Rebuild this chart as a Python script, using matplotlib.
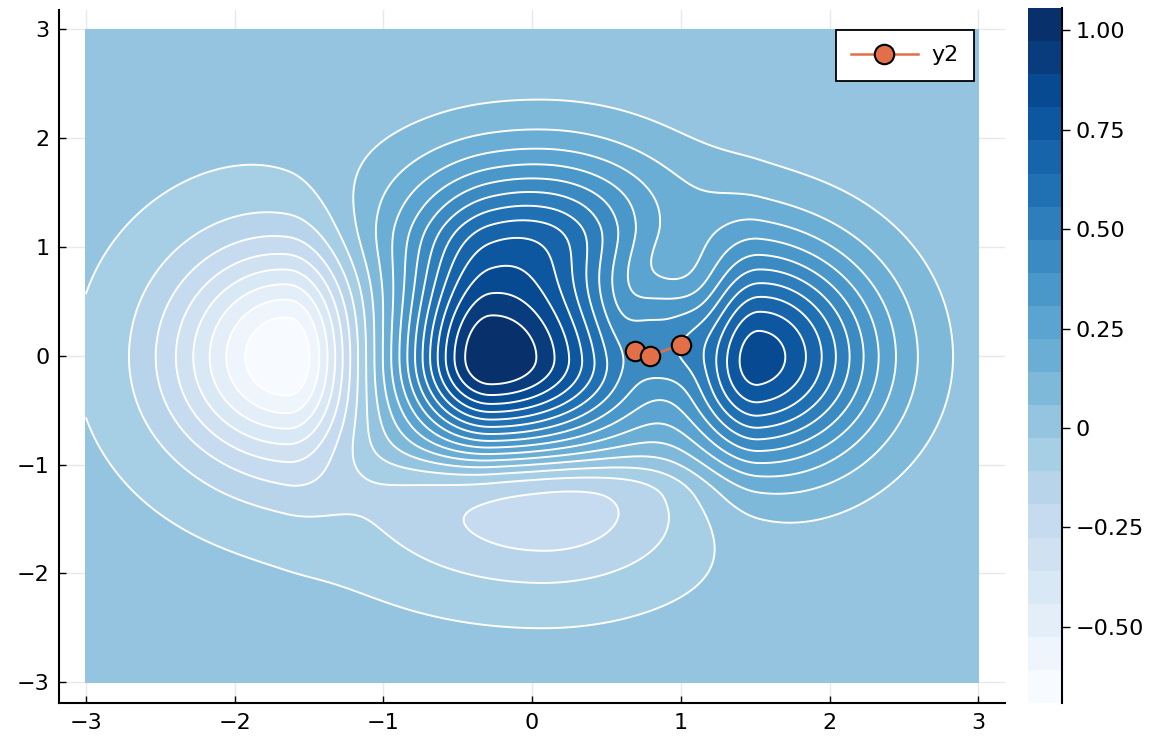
import numpy as np
import matplotlib
matplotlib.use("Agg")
import matplotlib.pyplot as plt

bump_amp = [1.056, 0.397, 0.820, -0.699, -0.270, 0.160, -0.150]
bump_cx = [-0.277, 0.093, 1.528, -1.641, 0.071, 0.891, 0.843]
bump_cy = [-0.030, 1.212, -0.008, -0.010, -1.292, 0.194, 0.634]
bump_sx_left = [0.409, 0.737, 0.326, 0.550, 0.891, 0.190, 0.402]
bump_sx_right = [0.725, 0.646, 0.575, 0.297, 0.744, 0.210, 0.425]
bump_sy_down = [0.558, 0.417, 0.705, 0.690, 0.614, 0.309, 0.605]
bump_sy_up = [0.772, 0.561, 0.737, 0.717, 0.275, 0.350, 0.504]
bump_power = [2.034, 1.993, 2.047, 1.975, 2.275, 2.668, 2.587]

# colour range of the colorbar and number of bands
z_min, z_max = -0.691, 1.055
n_bands = 21

# path of the optimiser ("y2")
path_x = [0.69, 0.79, 1.00]
path_y = [0.04, 0.00, 0.10]

cbar_ticks = [-0.5, -0.25, 0, 0.25, 0.5, 0.75, 1.0]
cbar_labels = ["\u22120.50", "\u22120.25", "0", "0.25", "0.50", "0.75", "1.00"]


def surface(x, y):
    z = np.zeros_like(x)
    for a, cx, cy, sxl, sxr, syd, syu, p in zip(bump_amp, bump_cx, bump_cy, bump_sx_left,
                                                 bump_sx_right, bump_sy_down, bump_sy_up, bump_power):
        dx, dy = x - cx, y - cy
        sx = np.where(dx < 0, sxl, sxr)
        sy = np.where(dy < 0, syd, syu)
        r2 = (dx / sx) ** 2 + (dy / sy) ** 2
        z += a * np.exp(-0.5 * r2 ** (p / 2))
    return z


xs = np.linspace(-3, 3, 361)
ys = np.linspace(-3, 3, 361)
X, Y = np.meshgrid(xs, ys)
Z = surface(X, Y)
levels = np.linspace(z_min, z_max, n_bands + 1)
band_colors = plt.cm.Blues(np.linspace(0, 1, n_bands))

plt.rcParams['font.family'] = 'DejaVu Sans'
plt.rcParams['contour.negative_linestyle'] = 'solid'
fig = plt.figure(figsize=(11.58, 7.40), dpi=100)
ax = fig.add_axes([0.051, 0.05, 0.817, 0.937])
cax = fig.add_axes([0.8877, 0.05, 0.0294, 0.939])

ax.grid(True, color='#e8e8e8', lw=1)
ax.set_axisbelow(True)
cs = ax.contourf(X, Y, np.clip(Z, z_min + 1e-6, z_max - 1e-6), levels=levels, colors=band_colors)
ax.contour(X, Y, Z, levels=levels[1:-1], colors='white', linewidths=1.4)
ax.plot(path_x, path_y, '-o', color='#e26f47', lw=1.8, ms=14, mec='black', mew=1.5, label='y2')

ax.set_xlim(-3.18, 3.18)
ax.set_ylim(-3.19, 3.18)
ax.set_xticks(range(-3, 4))
ax.set_yticks(range(-3, 4))
for s in ['top', 'right']:
    ax.spines[s].set_visible(False)
for s in ['left', 'bottom']:
    ax.spines[s].set_linewidth(1.5)
ax.tick_params(direction='in', length=5, width=1, labelsize=16, pad=7)

leg = ax.legend(loc='upper right', bbox_to_anchor=(0.967, 0.971), borderaxespad=0,
                fancybox=False, edgecolor='black', framealpha=1, fontsize=16,
                handlelength=3.0, handletextpad=0.6, borderpad=0.7)
leg.get_frame().set_linewidth(1.3)

cb = fig.colorbar(cs, cax=cax)
cb.outline.set_visible(False)
cax.plot([1, 1], [0, 1], transform=cax.transAxes, color='black', lw=1.5, clip_on=False)
cb.set_ticks(cbar_ticks)
cb.set_ticklabels(cbar_labels)
cax.tick_params(direction='out', length=6, width=1, labelsize=16, pad=4)

fig.savefig('out.png', dpi=100)
